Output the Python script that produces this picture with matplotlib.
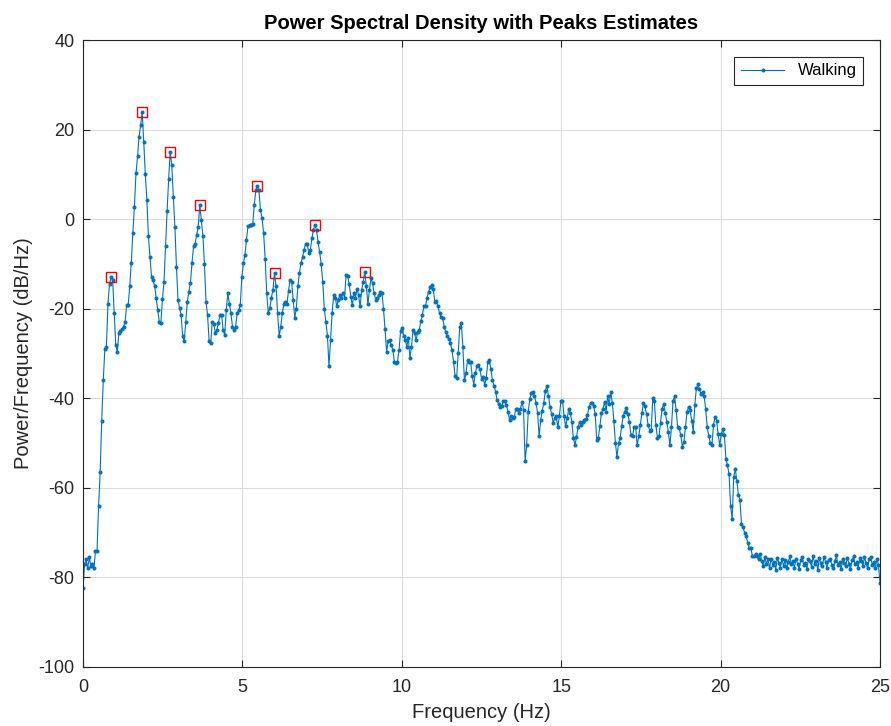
import numpy as np
import matplotlib.pyplot as plt

# PSD values (dB/Hz), 513 bins from 0 to 25 Hz
seg_a = [-82.4, -77, -76, -78, -75.5, -77.5, -77, -78, -74, -74, -64, -56.5, -45, -36, -29, -28.6, -19, -14.5, -13]
seg_b = [-13.5, -21, -28, -29.6, -25.5, -25, -24.5, -24, -23, -19.2, -19.2, -15, -9.7, -3, 2.8, 10.2, 14, 18.3, 21, 23.9]
seg_c = [17.2, 10, 4.3, -3.8, -8.4, -13, -13.7, -15, -17.7, -20.3, -23, -23.2, -17.9, -14, -6, 1.8, 9, 15]
seg_d = [12, 5, -1.7, -10.6, -18, -19.9, -21.4, -26.2, -27.3, -22.9, -18.4, -16.2, -14.2, -9.7, -6.1, -5.5, -3.5, -1.7, 3.2]
seg_e = [-0.2, -3.8, -10, -18.6, -21.4, -27.3, -27.7, -22.9, -23.4, -25.5, -24.7, -23.1, -21.4, -21.4, -24.7, -25.9,
         -20.3, -16.6, -18.9, -21, -24, -24.7, -24.1, -21, -20.3, -19.2, -13, -9.9, -8, -4.6, -1.5, -1.3, -1.2, -1.1,
         3.2, 6.5, 7.5]
seg_f = [6.4, 2.0, 0.2, -3.2, -8.8, -16.6, -21]
seg_g = [-19.9, -17.5, -15.8, -12.1, -15, -21, -26.2, -24, -21, -19, -18.5, -19, -16, -13.6, -14, -18, -22, -20, -15,
         -12, -9.8, -8.5, -6.8, -5.5, -5.5, -7.6, -7, -4.3, -2.4, -1.3, -2.4, -5.2, -7.4, -10, -14, -20, -23, -26,
         -32.9, -27, -21, -17, -17.5, -19.5, -18, -16.9, -17.5, -16.5, -17.5, -12.5, -12.8, -14.5, -17.3, -19.2,
         -16.5, -17.5, -15.5, -17, -19.5, -15.8, -14]
seg_h = [-11.7, -15, -19, -15.8, -13.2, -14.3, -16.5, -18, -17.7, -17, -16.2, -16.5, -20, -24.5, -29.6, -27.3, -27,
         -28.2, -29.2, -31.8, -32.2, -31.8, -29.2, -25, -24.2, -26, -27, -28.5, -26.5, -31, -28.5, -24.7, -25.5, -27,
         -25.1, -24.7, -22.8, -21.3, -19.5, -19.4, -17.5, -16.2, -15.2, -14.7, -15.6, -18.6, -18.2, -19.5, -21,
         -21.8, -22.1, -24, -25.3, -26, -26.8, -27.6, -29.3, -31.8, -35, -35.5, -30, -24, -23.3, -28.5, -36]
seg_i = [-34.4, -31.4, -31.8, -32, -35, -37, -34.4, -32.9, -32.6, -33.5, -35.7, -35.3, -37, -35.5, -32, -31.5,
         -33.5, -36, -37.2, -38.5, -40.4, -41.3, -42, -41.8, -40.6, -40.6, -41.6, -43, -44.8, -43.9, -44.5, -44.2,
         -42.3, -42.5, -43.4, -42.3, -40.8, -42.6, -54.1, -50.4, -43, -40.2, -38.8, -38.5, -39.5, -41, -43.3, -48.5,
         -44.8, -42.8, -41, -38.3, -37.3, -39.5, -41.9, -43.5, -45.5, -44.5]
seg_j = [-44, -46.5, -44, -40.5, -40.5, -44, -46.3, -44.5, -42.3, -43.2, -45.3, -48.9, -50.4, -48.7, -46.5, -45.3,
         -46, -45.3, -44.8, -44.7, -43.8, -42, -41.1, -41.1, -41.8, -43.5, -49.3, -48.9, -46.3, -43.3, -42.3, -40.8,
         -43, -39.6, -41.3, -38.7, -41, -45, -50, -53.2, -50, -48.9, -46.3, -43.9, -43, -42.1, -43.5, -45.4, -48.2,
         -48.4, -46.5, -46.5, -50.5, -48.5, -46, -43.3, -41.1, -41.8, -43.5, -46, -47.2]
seg_k = [-47, -40, -40.5, -46, -48.8, -48.5, -45.5, -42.3, -41.3, -43.2, -45.2, -47.6, -50.5, -46.5, -40.6, -39.6,
         -42.6, -46.5, -46.7, -48.3, -50.8, -49.8, -46.5, -43, -41.9, -42.7, -45, -47.5, -41.5, -37.8, -36.8, -38,
         -39, -38.5, -39.5, -42.5, -46.5, -48.5, -50, -50.5, -46, -44.2, -45, -48, -50.5, -48, -46.9, -48.3, -53.5,
         -55, -57, -64, -67, -57.6, -55.8, -58.4, -61.6, -62.7, -68.1, -68.8, -70, -70.8, -72.3, -73.4, -73.5,
         -75.2, -75.3, -74.8, -75.2, -76, -74.8, -76.4]
seg_l = [-77.5, -75.5, -77, -76, -78, -75.8, -77.2, -76.5, -78.3, -75.6,
         -76.8, -77.8, -75.9, -77.4, -76.2, -78, -76.6, -75.3, -77.1, -76.4,
         -77.9, -75.8, -76.9, -78.2, -76.1, -75.5, -77.3, -76.7, -78.1, -75.9,
         -76.4, -77.6, -75.2, -77, -76.3, -78.4, -75.7, -76.8, -77.5, -75.4,
         -76.6, -77.9, -76.1, -75.8, -77.2, -78, -76.4, -75.1, -77.3, -76.5,
         -78.2, -75.9, -76.7, -77.4, -75.6, -76.9, -78.1, -76.2, -75.3, -77.1,
         -76.6, -77.8, -75.7, -76.3, -77.5, -75.5, -76.8, -78, -76, -75.4,
         -77.2, -76.5, -77.9, -75.8, -77.2, -81.3]

peak_freqs = [0.88, 1.855, 2.73, 3.66, 5.47, 6.0, 7.27, 8.84]

psd_db = np.array(seg_a + seg_b + seg_c + seg_d + seg_e + seg_f + seg_g + seg_h + seg_i + seg_j + seg_k + seg_l)
freq = np.linspace(0, 25, len(psd_db))

# snap each peak onto the local maximum of the data
peak_idx = []
for pf in peak_freqs:
    k = int(np.argmin(np.abs(freq - pf)))
    lo, hi = max(k - 2, 0), k + 3
    peak_idx.append(lo + int(np.argmax(psd_db[lo:hi])))

plt.rcParams['font.family'] = ['Liberation Sans', 'DejaVu Sans']
plt.rcParams['axes.unicode_minus'] = False

fig = plt.figure(figsize=(8.91, 7.26), dpi=100)
ax = fig.add_axes([0.0932, 0.0813, 0.8945, 0.8636])

ax.plot(freq, psd_db, '.-', color='#0072BD', linewidth=0.8, markersize=3.8, label='Walking')
ax.plot(freq[peak_idx], psd_db[peak_idx], 's', markerfacecolor='none', markeredgecolor='red',
        markersize=6.5, markeredgewidth=1.0)

ax.set_xlim(0, 25)
ax.set_ylim(-100, 40)
ax.set_xticks(np.arange(0, 26, 5))
ax.set_yticks(np.arange(-100, 41, 20))
ax.grid(True, color='#dcdcdc', linewidth=0.8)
ax.set_axisbelow(True)
ax.tick_params(axis='both', direction='in', top=True, right=True, labelsize=13, colors='#262626', length=5)
ax.tick_params(axis='x', pad=9)
ax.tick_params(axis='y', pad=6)
for s in ax.spines.values():
    s.set_color('#262626')
    s.set_linewidth(0.8)

ax.set_xlabel('Frequency (Hz)', fontsize=14.5, color='#262626', labelpad=5)
ax.set_ylabel('Power/Frequency (dB/Hz)', fontsize=14.5, color='#262626', labelpad=4)
ax.set_title('Power Spectral Density with Peaks Estimates', fontsize=14.5, fontweight='bold', pad=8)

leg = ax.legend(loc='upper right', fontsize=12, fancybox=False, framealpha=1, edgecolor='#262626',
                borderaxespad=1.0, handlelength=2.6)
leg.get_frame().set_linewidth(0.8)

plt.savefig('out.png', dpi=100)
